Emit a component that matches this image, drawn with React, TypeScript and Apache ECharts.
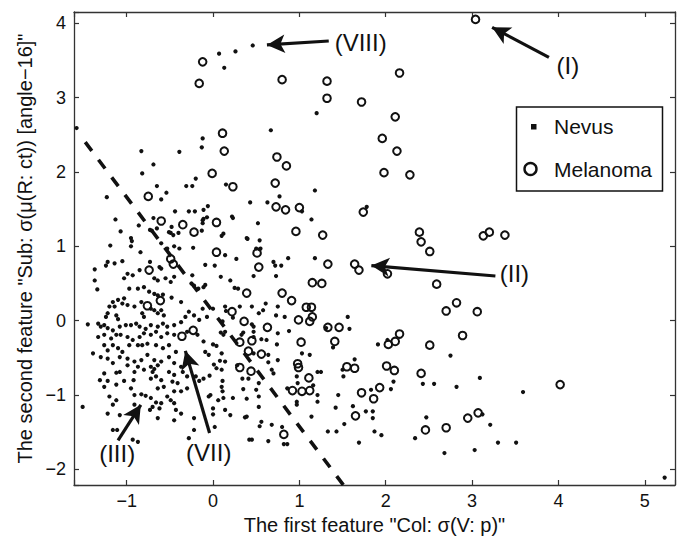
import React, { useEffect, useRef } from "react";
import * as echarts from "echarts";

const xRange = [-1.61, 5.35];
const yRange = [-2.21, 4.15];

const nevusPoints: number[][] = [
  [-1.58, 2.59], [0.07, 3.59], [0.26, 3.62], [0.46, 3.7], [0.13, 3.4], [1.2, 2.79], [0.67, 2.56], [-0.12, 2.45], [-0.13, 2.33],
  [-0.83, 2.28], [-0.39, 2.27], [-0.69, 2.1], [-0.82, 1.98], [-0.2, 1.91], [-0.31, 1.81], [-0.24, 1.81], [-0.65, 1.81], [-0.54, 1.72],
  [-0.6, 1.63], [-1.23, 1.66], [0.15, 1.83], [0.77, 1.67], [1.18, 1.75], [0.43, 1.59], [0.63, 1.59], [1.03, 1.47], [1.14, 1.36],
  [1.78, 1.53], [-1.13, 1.36], [-0.44, 1.47], [-0.28, 1.47], [-0.21, 1.47], [-0.11, 1.49], [-0.06, 1.54], [-1.07, 1.2], [-0.95, 1.11],
  [-0.95, 1.0], [-1.19, 1.01], [-0.84, 0.92], [-0.71, 1.21], [-0.65, 1.24], [-0.48, 1.26], [-0.49, 1.18], [-0.4, 1.18], [-0.11, 1.37],
  [0.12, 1.17], [0.22, 1.4], [0.39, 1.11], [0.52, 1.31], [0.54, 1.08], [-0.53, 0.97], [-0.23, 0.98], [-0.94, 1.07], [-0.69, 1.38],
  [-0.86, 1.28], [-0.73, 1.22], [-0.51, 1.19], [-0.46, 1.15], [-0.6, 1.04], [-0.45, 1.0], [-0.39, 0.97], [-0.12, 1.35], [-0.13, 1.21],
  [-0.07, 1.39], [-0.12, 1.31], [0.23, 1.38], [0.1, 1.14], [0.4, 1.1], [0.55, 0.97], [0.5, 0.97],
  [-1.22, 0.79], [-1.14, 0.77], [-1.05, 0.8], [-1.37, 0.69], [-1.24, 0.74], [-1.37, 0.54], [-1.34, 0.42], [-0.99, 0.63], [-1.03, 0.57],
  [-0.93, 0.61], [-0.85, 0.68], [-0.73, 0.79], [-0.62, 0.72], [-0.6, 0.7], [-0.68, 0.57], [-0.64, 0.54], [-0.55, 0.57], [-0.45, 0.59],
  [-0.49, 0.52], [-0.24, 0.61], [-0.25, 0.5], [-0.22, 0.47], [-0.17, 0.43], [-0.97, 0.43], [-0.87, 0.43], [-0.8, 0.45], [-0.74, 0.39],
  [-0.68, 0.36], [-0.64, 0.34], [-0.58, 0.35], [-0.48, 0.31], [-0.37, 0.25], [-1.03, 0.3], [-1.1, 0.28], [-1.16, 0.25], [-1.2, 0.19],
  [-1.14, 0.19], [-1.05, 0.23], [-0.99, 0.21], [-0.91, 0.19], [-0.83, 0.25], [-0.72, 0.16], [-0.68, 0.14], [-0.64, 0.1], [-0.6, 0.14],
  [-0.57, 0.07], [-0.82, 0.1], [-0.8, 0.05], [-1.22, 0.1], [-1.24, 0.05], [-1.12, 0.07], [-1.1, 0.02], [-1.26, -0.06], [-1.45, -0.05],
  [-1.33, -0.04], [-1.3, -0.08], [-1.22, -0.1], [-1.16, -0.13], [-1.08, -0.08], [-1.01, -0.06], [-0.95, -0.06], [-0.89, -0.04],
  [-0.85, -0.08], [-0.78, -0.11], [-0.72, -0.06], [-0.64, -0.08], [-0.58, -0.04], [-0.53, -0.08], [-0.45, -0.06], [-0.37, -0.02],
  [-0.32, 0.05], [-0.28, 0.12], [-0.22, 0.07], [-0.16, 0.01], [-0.12, 0.16], [-1.33, -0.22], [-1.26, -0.19], [-1.18, -0.24],
  [-1.12, -0.19], [-1.07, -0.19], [-0.99, -0.22], [-0.93, -0.26], [-0.85, -0.22], [-0.8, -0.17], [-0.72, -0.19], [-0.66, -0.15],
  [-0.6, -0.22], [-0.53, -0.17], [-0.45, -0.19], [-0.3, -0.15], [-0.18, -0.19], [-1.39, -0.44], [-1.26, -0.33], [-1.22, -0.4],
  [-1.16, -0.33], [-1.1, -0.37], [-1.05, -0.42], [-0.97, -0.33], [-0.87, -0.33], [-0.82, -0.33], [-0.76, -0.31], [-0.66, -0.33],
  [-0.58, -0.37], [-0.51, -0.33], [-0.43, -0.42], [-1.3, -0.49], [-1.22, -0.51], [-1.16, -0.57], [-1.08, -0.49], [-0.99, -0.51],
  [-0.91, -0.55], [-0.83, -0.53], [-0.76, -0.46], [-0.68, -0.53], [-0.6, -0.55], [-0.51, -0.49], [-0.45, -0.57], [-0.99, -0.6],
  [-0.87, -0.62], [-0.72, -0.62], [-0.64, -0.6], [-0.37, -0.62],
  [0.14, 0.88], [0.27, 0.83], [0.54, 0.96], [-0.09, 0.75], [0.02, 0.74], [0.7, 0.79], [0.72, 0.74], [0.79, 0.74], [0.87, 0.84],
  [1.18, 0.84], [0.09, 0.59], [0.2, 0.54], [0.47, 0.6], [0.73, 0.6], [-0.11, 0.45], [-0.09, 0.48], [0.25, 0.44], [0.29, 0.43],
  [0.0, 0.16], [0.14, 0.19], [0.15, 0.13], [0.31, 0.19], [0.45, 0.19], [0.58, 0.14], [0.61, 0.23], [0.53, 0.1], [0.75, 0.19],
  [0.73, 0.07], [0.83, 0.05], [-0.07, 0.05], [0.11, -0.01], [0.23, 0.04], [0.45, -0.05], [0.47, -0.08], [0.75, -0.17], [0.88, -0.14],
  [-0.11, -0.28], [0.0, -0.32], [0.04, -0.34], [0.12, -0.19], [0.14, -0.15], [0.09, -0.16], [0.35, -0.16], [0.33, -0.19], [0.47, -0.15],
  [0.47, -0.22], [0.56, -0.25], [0.62, -0.26], [0.74, -0.32], [-0.09, -0.42], [-0.05, -0.46], [0.1, -0.44], [0.47, -0.44], [0.64, -0.46],
  [0.75, -0.53], [1.03, -0.44], [0.01, -0.59], [0.08, -0.54], [0.14, -0.55], [0.28, -0.6], [0.64, -0.56], [1.12, -0.46], [1.31, -0.1],
  [1.39, -0.36],
  [-1.26, -0.71], [-1.12, -0.7], [-1.08, -0.69], [-0.91, -0.69], [-0.8, -0.66], [-0.7, -0.69], [-0.68, -0.65], [-1.31, -0.8],
  [-1.22, -0.81], [-1.12, -0.86], [-1.03, -0.81], [-0.92, -0.8], [-1.26, -0.89], [-0.72, -0.78], [-0.66, -0.75], [-0.6, -0.8],
  [-0.51, -0.69], [-0.45, -0.73], [-0.35, -0.69], [-0.3, -0.75], [-0.47, -0.82], [-0.41, -0.84], [-0.57, -0.89], [-0.64, -0.91],
  [-0.95, -0.91], [-0.45, -0.95], [-0.37, -0.95], [-0.3, -0.91], [-1.2, -1.02], [-1.12, -1.07], [-1.16, -1.13], [-0.91, -1.0],
  [-0.83, -0.99], [-0.78, -1.01], [-0.72, -1.04], [-0.66, -1.1], [-0.6, -1.11], [-0.53, -1.02], [-0.49, -1.07], [-0.45, -1.11],
  [-1.51, -1.16], [-0.7, -1.16], [-0.73, -1.2], [-0.62, -1.18], [-0.43, -1.2], [-1.22, -1.25], [-1.08, -1.27], [-0.64, -1.31],
  [-0.37, -1.25], [-0.45, -1.34], [-0.22, -1.31], [-0.91, -1.13], [-1.16, -1.47], [-1.11, -1.47], [-0.93, -1.6], [-0.87, -1.63],
  [-0.28, -1.58], [-0.22, -1.47], [-0.2, -0.75], [-0.16, -0.81],
  [-0.11, -0.78], [-0.04, -0.74], [0.04, -0.64], [0.1, -0.66], [0.11, -0.81], [0.1, -0.89], [0.11, -0.95], [-0.05, -1.02], [-0.03, -1.0],
  [0.06, -1.07], [0.12, -1.04], [0.23, -1.04], [0.0, -1.18], [0.0, -1.26], [0.14, -1.2], [0.2, -1.27], [0.02, -1.43], [0.34, -0.78],
  [0.41, -0.78], [0.35, -0.92], [0.53, -0.84], [0.5, -0.93], [0.53, -1.02], [0.39, -1.05], [0.53, -1.16], [0.39, -1.29], [0.37, -1.3],
  [0.56, -1.36], [0.54, -1.42], [0.68, -1.4], [0.42, -1.6], [0.45, -1.6], [0.64, -1.62], [0.8, -1.43], [0.82, -1.66], [0.86, -1.66],
  [0.68, -0.66], [0.7, -0.71], [0.97, -1.09], [0.97, -1.13], [1.14, -1.29], [1.21, -0.69], [1.25, -0.69], [1.21, -1.0], [1.21, -1.09],
  [1.42, -1.17], [1.45, -1.0], [1.33, -1.49], [1.43, -1.49], [0.97, -0.75], [0.98, -0.84], [1.16, -0.87], [0.86, -0.91], [1.5, -0.66],
  [1.51, -0.75],
  [1.56, 0.05], [1.58, -0.11], [1.64, -0.52], [1.91, -0.32], [2.02, -0.26], [1.62, -1.15], [1.52, -1.39], [1.69, -1.64], [1.77, -1.22],
  [1.85, -1.22], [1.85, -1.31], [1.83, -0.93], [1.87, -1.49], [1.95, -1.54], [2.06, -0.92], [2.09, -0.82], [2.34, -1.58], [2.43, -0.85],
  [2.56, -0.85], [2.47, -1.3], [2.75, -0.47], [2.82, -0.89], [3.09, -0.77], [2.68, -1.78], [3.03, -1.74], [3.21, -1.4], [3.12, -1.26],
  [3.3, -1.64], [3.51, -1.64], [3.59, -0.96], [5.23, -2.11],
];

const melanomaPoints: number[][] = [
  [3.04, 4.05], [-0.12, 3.48], [-0.16, 3.19], [0.8, 3.24], [1.32, 3.22], [1.32, 2.99], [1.72, 2.94], [2.16, 3.33], [2.11, 2.74],
  [1.96, 2.45], [2.13, 2.28], [1.98, 1.99], [2.28, 1.96], [0.11, 2.52], [0.13, 2.28], [-0.01, 1.98], [0.23, 1.8], [0.74, 2.2],
  [0.85, 2.08], [0.72, 1.85], [0.73, 1.53], [0.84, 1.49], [1.0, 1.52], [1.74, 1.46], [-0.75, 1.67], [-0.6, 1.34], [-0.35, 1.29],
  [-0.22, 1.19], [0.04, 1.32], [0.96, 1.2], [1.27, 1.15], [0.04, 0.92], [0.51, 0.91], [0.53, 0.72], [1.33, 0.76], [1.64, 0.76],
  [1.69, 0.68], [2.02, 0.63], [2.39, 1.19], [2.41, 1.06], [2.51, 0.93], [3.13, 1.14], [3.2, 1.19], [3.38, 1.15], [2.59, 0.49],
  [2.82, 0.24], [2.7, 0.13], [3.06, 0.12], [2.89, -0.2], [2.51, -0.33], [2.16, -0.18], [2.11, -0.28], [2.03, -0.32], [2.01, -0.61],
  [2.1, -0.67], [2.41, -0.71], [1.93, -0.9], [1.86, -1.05], [1.72, -0.97], [4.02, -0.86], [3.07, -1.24], [2.95, -1.31], [2.7, -1.44],
  [2.46, -1.47], [1.65, -1.28], [0.82, -1.53], [1.55, -0.62], [1.64, -0.64], [1.41, -0.28], [1.46, -0.09], [1.33, -0.09], [1.02, -0.29],
  [1.08, 0.18], [1.14, 0.18], [1.15, 0.05], [1.12, -0.01], [0.99, 0.01], [0.91, 0.27], [0.8, 0.37], [1.15, 0.51], [1.26, 0.5],
  [0.63, -0.09], [0.98, -0.58], [0.99, -0.63], [1.11, -0.77], [0.92, -0.94], [1.03, -0.95], [1.12, -0.94], [0.39, 0.37], [0.22, 0.12],
  [0.36, -0.01], [0.31, -0.29], [0.45, -0.27], [0.41, -0.41], [0.56, -0.45], [0.31, -0.63], [0.44, -0.68], [-0.23, -0.13], [-0.36, -0.21],
  [-0.74, 0.68], [-0.49, 0.83], [-0.46, 0.76], [-0.61, 0.27], [-0.76, 0.2],
];

const boundaryLine: number[][] = [[-1.48, 2.4], [1.51, -2.21]];

const annotationLabels = ["(I)", "(II)", "(III)", "(VII)", "(VIII)"];
const annotationLabelPos: number[][] = [[4.11, 3.43], [3.49, 0.64], [-1.11, -1.78], [-0.05, -1.77], [1.71, 3.74]];
const arrowTails: number[][] = [[3.89, 3.54], [3.27, 0.6], [-1.1, -1.61], [-0.04, -1.51], [1.34, 3.76]];
const arrowHeads: number[][] = [[3.14, 4.0], [1.73, 0.75], [-0.78, -1.03], [-0.35, -0.29], [0.52, 3.7]];

const FONT = "'Liberation Sans', Arial, Helvetica, sans-serif";
const INK = "#111111";

const GRID = { left: 74, right: 7, top: 12, bottom: 51 };
const W = 682;
const H = 536;
const ARROW_LEN = 18;

export default function App() {
  const ref = useRef<HTMLDivElement>(null);

  useEffect(() => {
    if (!ref.current) return;
    const chart = echarts.init(ref.current, undefined, { renderer: "svg" });

    const pxPerX = (W - GRID.left - GRID.right) / (xRange[1] - xRange[0]);
    const pxPerY = (H - GRID.top - GRID.bottom) / (yRange[1] - yRange[0]);
    const arrows = arrowTails.map((t, i) => {
      const h = arrowHeads[i];
      const dx = (h[0] - t[0]) * pxPerX;
      const dy = (h[1] - t[1]) * pxPerY;
      const len = Math.hypot(dx, dy);
      const back = ARROW_LEN / 2;
      const hx = h[0] - ((dx / len) * back) / pxPerX;
      const hy = h[1] - ((dy / len) * back) / pxPerY;
      return [{ coord: t }, { coord: [hx, hy] }];
    });

    const fmt = (v: number) => {
      const r = Math.round(v * 1000) / 1000;
      if (!Number.isInteger(r)) return "";
      return String(r).replace("-", "\u2212");
    };

    const axisCommon = {
      axisLine: { show: true, onZero: false, lineStyle: { color: "#333", width: 1.3 } },
      axisTick: { show: true, inside: true, length: 5, lineStyle: { color: "#333", width: 1.2 } },
      splitLine: { show: false },
    };

    chart.setOption({
      animation: false,
      backgroundColor: "#fff",
      textStyle: { fontFamily: FONT },
      grid: { ...GRID, containLabel: false, outerBoundsMode: "none" },
      xAxis: [
        {
          type: "value",
          min: xRange[0],
          max: xRange[1],
          position: "bottom",
          ...axisCommon,
          axisLabel: { formatter: fmt, fontSize: 18, color: INK, margin: 7, fontFamily: FONT },
          name: 'The first feature "Col: \u03c3(V: p)"',
          nameLocation: "middle",
          nameGap: 27,
          nameTextStyle: { fontSize: 20, color: INK, fontFamily: FONT },
        },
        {
          type: "value",
          min: xRange[0],
          max: xRange[1],
          position: "top",
          ...axisCommon,
          axisLabel: { show: false },
        },
      ],
      yAxis: [
        {
          type: "value",
          min: yRange[0],
          max: yRange[1],
          position: "left",
          ...axisCommon,
          axisLabel: { formatter: fmt, fontSize: 18, color: INK, margin: 8, fontFamily: FONT },
          name: 'The second feature "Sub: \u03c3(\u03bc(R: ct)) [angle\u221216]"',
          nameLocation: "middle",
          nameGap: 38,
          nameRotate: 90,
          nameTextStyle: { fontSize: 20, color: INK, fontFamily: FONT },
        },
        {
          type: "value",
          min: yRange[0],
          max: yRange[1],
          position: "right",
          ...axisCommon,
          axisLabel: { show: false },
        },
      ],
      legend: { show: false },
      series: [
        {
          name: "Boundary",
          type: "line",
          data: boundaryLine,
          symbol: "none",
          clip: true,
          lineStyle: { color: INK, width: 3.6, type: [11, 11] },
          silent: true,
          z: 3,
        },
        {
          name: "Nevus",
          type: "scatter",
          data: nevusPoints,
          symbol: "circle",
          symbolSize: 4.2,
          itemStyle: { color: INK, opacity: 1 },
          silent: true,
          z: 4,
        },
        {
          name: "Melanoma",
          type: "scatter",
          data: melanomaPoints,
          symbol: "circle",
          symbolSize: 7.6,
          itemStyle: { color: "rgba(255,255,255,0)", borderColor: INK, borderWidth: 2, opacity: 1 },
          silent: true,
          z: 5,
        },
        {
          name: "Annotations",
          type: "scatter",
          data: annotationLabels.map((n, i) => ({ name: n, value: annotationLabelPos[i] })),
          symbolSize: 0.1,
          itemStyle: { color: "rgba(255,255,255,0)", opacity: 1 },
          label: {
            show: true,
            position: "inside",
            formatter: "{b}",
            fontSize: 24,
            color: INK,
            opacity: 1,
            fontFamily: FONT,
          },
          silent: true,
          z: 6,
          markLine: {
            silent: true,
            symbol: ["none", "arrow"],
            symbolSize: [14, ARROW_LEN],
            label: { show: false },
            lineStyle: { color: INK, width: 3.2, type: "solid", opacity: 1 },
            itemStyle: { color: INK },
            emphasis: { disabled: true },
            data: arrows,
          },
        },
      ],
      graphic: [
        {
          type: "rect",
          shape: { x: 516.5, y: 107, width: 146, height: 84 },
          style: { fill: "#fff", stroke: INK, lineWidth: 1.5 },
          z: 100,
        },
        {
          type: "rect",
          shape: { x: 531, y: 124, width: 5.5, height: 5.5 },
          style: { fill: INK },
          z: 101,
        },
        {
          type: "circle",
          shape: { cx: 530.5, cy: 169, r: 6 },
          style: { fill: "none", stroke: INK, lineWidth: 2.4 },
          z: 101,
        },
        {
          type: "text",
          x: 554,
          y: 126.5,
          style: { text: "Nevus", fontSize: 21, fontFamily: FONT, fill: INK, verticalAlign: "middle", align: "left" },
          z: 101,
        },
        {
          type: "text",
          x: 554,
          y: 169,
          style: { text: "Melanoma", fontSize: 21, fontFamily: FONT, fill: INK, verticalAlign: "middle", align: "left" },
          z: 101,
        },
      ],
    });

    return () => chart.dispose();
  }, []);

  return (
    <div
      ref={ref}
      style={{ position: "fixed", left: 0, top: 0, width: W, height: H, background: "#fff" }}
    />
  );
}
